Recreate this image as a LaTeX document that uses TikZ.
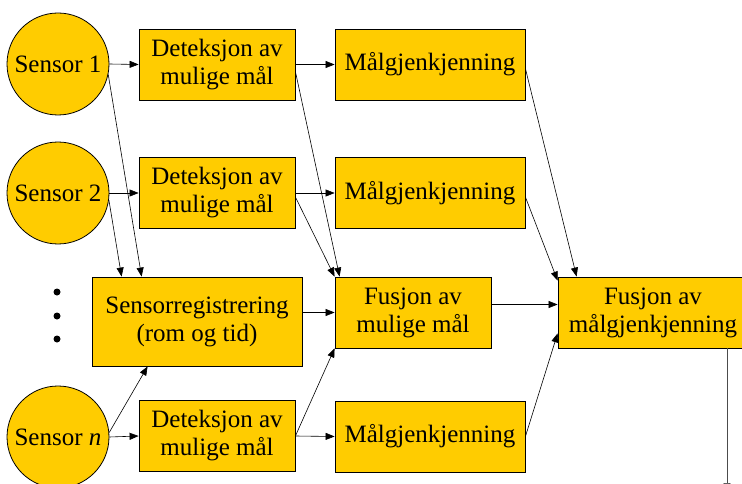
\documentclass[tikz,border=0pt]{standalone}
\usepackage{fontspec}
\setmainfont{Liberation Serif}
\usetikzlibrary{calc,arrows.meta}
\definecolor{gold}{RGB}{255,204,0}

\begin{document}
\begin{tikzpicture}[x=1pt,y=-1pt,
    font=\fontsize{25}{28}\selectfont,
    box/.style={draw=black,fill=gold,line width=0.8pt,align=center,
      inner sep=0pt,minimum height=71pt},
    sensor/.style={draw=black,fill=gold,line width=0.8pt,circle,
      inner sep=0pt,minimum size=102pt},
    arr/.style={-{Triangle[length=9pt,width=7pt]},line width=0.6pt}]
  \useasboundingbox (0,0) rectangle (742,484);
  \clip (0,0) rectangle (742,484);
  % sensors
  \node[sensor] (s1) at (58,64) {Sensor 1};
  \node[sensor] (s2) at (58,193) {Sensor 2};
  \node[sensor] (sn) at (58,437) {Sensor \textit{n}};
  \foreach \y in {292,316,339}
    \fill (57,\y) circle (3.5);
  % detection and recognition
  \node[box,minimum width=156pt] (d1) at (217,64.5) {Deteksjon av\\mulige mål};
  \node[box,minimum width=156pt] (d2) at (217,193) {Deteksjon av\\mulige mål};
  \node[box,minimum width=156pt] (dn) at (217,436) {Deteksjon av\\mulige mål};
  \node[box,minimum width=190pt] (m1) at (430,64.5) {Målgjenkjenning};
  \node[box,minimum width=190pt] (m2) at (430,193) {Målgjenkjenning};
  \node[box,minimum width=190pt] (mn) at (430,436.5) {Målgjenkjenning};
  % registration and fusion
  \node[box,minimum width=210pt,minimum height=89pt] (reg) at (197,321.5)
    {Sensorregistrering\\(rom og tid)};
  \node[box,minimum width=156pt] (fmul) at (413,312.5) {Fusjon av\\mulige mål};
  \node[box,minimum width=190pt] (fmal) at (653,312.5) {Fusjon av\\målgjenkjenning};
  \coordinate (out) at (727,492);
  % connectors
  \draw[arr] (s1.east) -- (d1.west);
  \draw[arr] (d1.east) -- (m1.west);
  \draw[arr] (s2.east) -- (d2.west);
  \draw[arr] (d2.east) -- (m2.west);
  \draw[arr] (sn.east) -- (dn.west);
  \draw[arr] (dn.east) -- (mn.west);
  \draw[arr] (s1.-12) -- ([xshift=50pt]reg.north west);
  \draw[arr] (s2.-8) -- ([xshift=30pt]reg.north west);
  \draw[arr] (sn.5) -- ([xshift=56pt]reg.south west);
  \draw[arr] (reg.east |- fmul.west) -- (fmul.west);
  \draw[arr] ([yshift=-7pt]d1.east) -- ([xshift=5pt]fmul.north west);
  \draw[arr] ([yshift=-4pt]d2.east) -- (fmul.north west);
  \draw[arr] (dn.east) -- (fmul.south west);
  \draw[arr] ([yshift=-4pt]m1.east) -- ([xshift=19pt]fmal.north west);
  \draw[arr] ([yshift=-4pt]m2.east) -- ([yshift=-4pt]fmal.north west);
  \draw[arr] (mn.east) -- ([yshift=15pt]fmal.south west);
  \draw[arr] ([yshift=8pt]fmul.east) -- ([yshift=8pt]fmal.west);
  \draw[arr,draw=black!70,fill=black] (fmal.south -| out) -- (out);
\end{tikzpicture}
\end{document}
